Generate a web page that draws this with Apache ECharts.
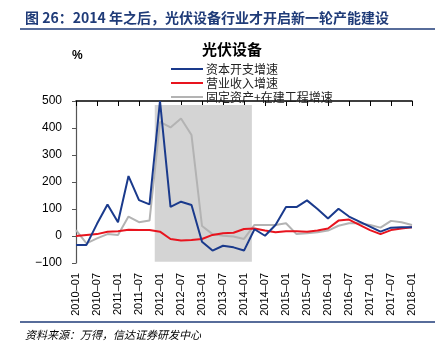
<!DOCTYPE html>
<html><head><meta charset="utf-8">
<script src="https://cdn.jsdelivr.net/npm/echarts@6/dist/echarts.min.js"></script>
<style>html,body{margin:0;padding:0;background:#fff}#c{width:442px;height:358px}</style>
</head><body><div id="c"></div>
<script>
const categories = ['2010-01','2010-04','2010-07','2010-10','2011-01','2011-04','2011-07','2011-10',
 '2012-01','2012-04','2012-07','2012-10','2013-01','2013-04','2013-07','2013-10',
 '2014-01','2014-04','2014-07','2014-10','2015-01','2015-04','2015-07','2015-10',
 '2016-01','2016-04','2016-07','2016-10','2017-01','2017-04','2017-07','2017-10','2018-01'];
const capexGrowth = [-33,-33,45,117,51,222,133,117,500,108,127,115,-21,-54,-36,-42,-54,25,1,41,107,107,132,100,65,101,72,53,35,16,31,32,32];
const revenueGrowth = [0,4,7,16,18,23,22,22,16,-11,-17,-15,-11,4,10,12,26,28,20,14,18,18,16,20,28,57,61,41,22,7,22,28,32];
const fixedAssetGrowth = [22,-27,-9,7,4,72,51,57,423,402,435,374,37,7,1,-2,-11,41,41,41,47,7,10,14,20,38,47,47,41,31,56,51,41];
const yTicks = {min:-100, max:500, interval:100};
const seriesNames = ['资本开支增速','营业收入增速','固定资产+在建工程增速'];
const shadeRange = {x0:7.5, x1:16.75, y0:-95, y1:485};

const chart = echarts.init(document.getElementById('c'));
const fontCN = '"Noto Sans CJK SC", sans-serif';
chart.setOption({
  backgroundColor:'#fff',
  animation:false,
  title:[
    {text:'图 26：2014 年之后，光伏设备行业才开启新一轮产能建设', left:20, top:6,
     textStyle:{fontSize:14, fontWeight:'bold', color:'#1f3b78', fontFamily:fontCN}},
    {text:'光伏设备', left:197, top:37, textStyle:{fontSize:15, fontWeight:'bold', color:'#000', fontFamily:fontCN}},
    {text:'%', left:67, top:45, textStyle:{fontSize:12, fontWeight:'bold', color:'#000', fontFamily:'Arial'}},
    {text:'资料来源：万得，信达证券研发中心', left:20, top:324,
     textStyle:{fontSize:11, fontStyle:'italic', fontWeight:'normal', color:'#000', fontFamily:fontCN}}
  ],
  graphic:[
    {type:'line', shape:{x1:20,y1:29,x2:435,y2:29}, style:{stroke:'#1f3b78', lineWidth:1.5}},
    {type:'line', shape:{x1:20,y1:322,x2:435,y2:322}, style:{stroke:'#1f3b78', lineWidth:1.5}}
  ],
  legend:{orient:'vertical', left:166, top:58, itemGap:2, itemWidth:32, itemHeight:10,
    icon:'path://M0,4 L32,4 L32,6 L0,6 Z',
    data:seriesNames,
    textStyle:{fontSize:12, color:'#222', fontFamily:fontCN, padding:[0,0,0,-2]}},
  grid:{left:76, right:30, top:101, bottom:95},
  xAxis:[
    {type:'category', data:categories, boundaryGap:false, position:'bottom',
     axisLine:{show:false}, axisTick:{show:false},
     axisLabel:{rotate:90, interval:1, margin:10, fontSize:11, color:'#000', fontFamily:'Arial',
       formatter:v=>v.replace('-','–')}},
    {type:'category', data:categories, boundaryGap:false, axisLine:{onZero:true, lineStyle:{color:'#000', width:1.5}},
     axisTick:{show:true, inside:true, interval:1, length:5, lineStyle:{color:'#000'}}, axisLabel:{show:false}},
    {type:'value', min:0, max:categories.length-1, show:false}
  ],
  yAxis:{type:'value', min:yTicks.min, max:yTicks.max, interval:yTicks.interval,
    axisLine:{show:true, lineStyle:{color:'#555', width:1.2}},
    axisTick:{show:true, length:4, lineStyle:{color:'#555'}},
    splitLine:{show:false},
    axisLabel:{fontSize:12, color:'#000', fontFamily:'Arial', margin:14, formatter:v=>String(v).replace('-','−')}},
  series:[
    {type:'line', xAxisIndex:2, data:[], silent:true,
     markArea:{silent:true, itemStyle:{color:'#d4d4d4'},
       data:[[{coord:[shadeRange.x0, shadeRange.y0]},{coord:[shadeRange.x1, shadeRange.y1]}]]}},
    {name:seriesNames[0], type:'line', data:capexGrowth, symbol:'none', z:5,
     lineStyle:{color:'#1a3a8c', width:2}, itemStyle:{color:'#1a3a8c'}},
    {name:seriesNames[1], type:'line', data:revenueGrowth, symbol:'none', z:4,
     lineStyle:{color:'#e8141e', width:2}, itemStyle:{color:'#e8141e'}},
    {name:seriesNames[2], type:'line', data:fixedAssetGrowth, symbol:'none', z:3,
     lineStyle:{color:'#b3b3b3', width:2}, itemStyle:{color:'#b3b3b3'}}
  ]
});
</script></body></html>
